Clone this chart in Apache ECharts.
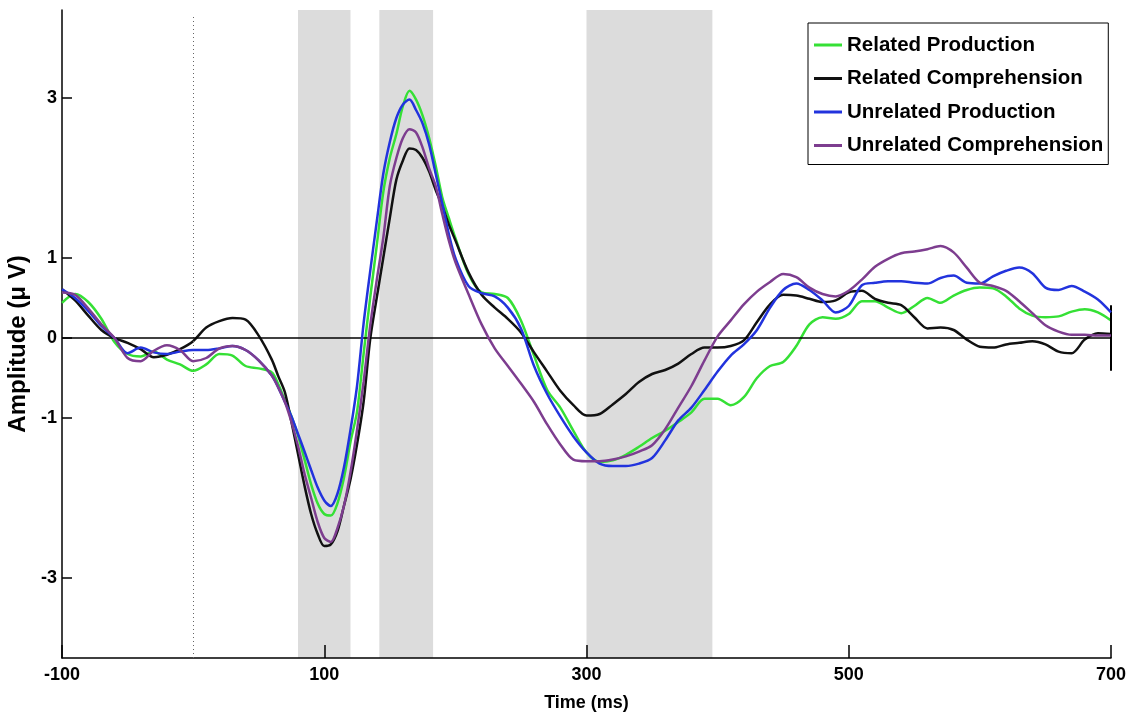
<!DOCTYPE html>
<html>
<head>
<meta charset="utf-8">
<script src="https://cdn.jsdelivr.net/npm/echarts@6/dist/echarts.min.js"></script>
<style>
html,body{margin:0;padding:0;background:#fff;}
#chart{width:1135px;height:722px;}
</style>
</head>
<body>
<div id="chart"></div>
<script>
const times = [-100,-90,-80,-70,-60,-50,-40,-30,-20,-10,0,10,20,30,40,50,60,
  65,70,75,80,85,90,95,100,105,110,115,120,125,130,135,140,145,150,155,160,165,170,175,180,185,190,195,200,
  210,220,230,240,250,260,270,280,290,300,310,320,330,340,350,360,370,380,390,400,410,420,430,440,450,460,470,480,490,500,
  510,520,530,540,550,560,570,580,590,600,610,620,630,640,650,660,670,680,690,700];

const relatedProduction = [0.44,0.55,0.45,0.24,-0.05,-0.2,-0.23,-0.17,-0.27,-0.33,-0.41,-0.33,-0.2,-0.22,-0.35,-0.38,-0.43,
  -0.58,-0.78,-0.98,-1.22,-1.52,-1.83,-2.07,-2.2,-2.22,-2.07,-1.75,-1.3,-0.92,-0.2,0.5,1.15,1.82,2.25,2.55,2.9,3.09,2.98,2.78,2.5,2.15,1.76,1.5,1.25,
  0.8,0.57,0.55,0.5,0.22,-0.22,-0.65,-0.87,-1.16,-1.43,-1.55,-1.53,-1.46,-1.36,-1.25,-1.16,-1.05,-0.93,-0.76,-0.76,-0.84,-0.74,-0.5,-0.35,-0.3,-0.1,0.17,0.26,0.24,0.3,
  0.46,0.46,0.38,0.31,0.4,0.5,0.44,0.53,0.6,0.63,0.62,0.52,0.37,0.28,0.26,0.27,0.33,0.36,0.32,0.22];

const relatedComprehension = [0.61,0.47,0.28,0.1,0.0,-0.06,-0.14,-0.24,-0.21,-0.14,-0.04,0.13,0.21,0.25,0.23,0.03,-0.27,
  -0.48,-0.68,-1.05,-1.45,-1.85,-2.2,-2.45,-2.6,-2.58,-2.42,-2.1,-1.77,-1.33,-0.8,-0.02,0.5,1.0,1.5,1.98,2.22,2.37,2.35,2.25,2.08,1.85,1.65,1.42,1.22,
  0.82,0.54,0.38,0.24,0.07,-0.18,-0.42,-0.66,-0.84,-0.97,-0.95,-0.83,-0.7,-0.55,-0.45,-0.4,-0.32,-0.2,-0.12,-0.12,-0.1,-0.03,0.2,0.42,0.54,0.53,0.49,0.45,0.47,0.57,
  0.59,0.49,0.44,0.41,0.26,0.12,0.13,0.1,-0.02,-0.11,-0.12,-0.08,-0.06,-0.04,-0.08,-0.17,-0.19,-0.02,0.06,0.05];

const unrelatedProduction = [0.61,0.5,0.34,0.15,0.0,-0.19,-0.12,-0.18,-0.2,-0.17,-0.15,-0.15,-0.13,-0.1,-0.15,-0.28,-0.47,
  -0.62,-0.8,-0.98,-1.2,-1.42,-1.65,-1.87,-2.03,-2.1,-1.95,-1.62,-1.15,-0.6,0.18,0.83,1.45,2.05,2.45,2.75,2.92,2.98,2.85,2.68,2.42,2.05,1.68,1.3,1.0,
  0.65,0.56,0.52,0.38,0.12,-0.35,-0.7,-0.98,-1.23,-1.43,-1.57,-1.6,-1.6,-1.57,-1.5,-1.28,-1.03,-0.87,-0.65,-0.42,-0.22,-0.08,0.1,0.38,0.6,0.68,0.6,0.47,0.32,0.4,
  0.66,0.69,0.71,0.71,0.69,0.68,0.75,0.78,0.69,0.68,0.77,0.84,0.88,0.81,0.63,0.6,0.65,0.58,0.48,0.32];

const unrelatedComprehension = [0.57,0.54,0.37,0.17,0.0,-0.25,-0.29,-0.16,-0.09,-0.15,-0.29,-0.25,-0.13,-0.1,-0.15,-0.28,-0.47,
  -0.62,-0.8,-1.05,-1.35,-1.7,-2.0,-2.3,-2.5,-2.55,-2.38,-2.1,-1.68,-1.15,-0.55,0.15,0.72,1.25,1.9,2.25,2.5,2.61,2.57,2.38,2.12,1.9,1.55,1.22,0.95,
  0.55,0.17,-0.13,-0.35,-0.57,-0.8,-1.08,-1.33,-1.52,-1.54,-1.54,-1.52,-1.48,-1.42,-1.34,-1.14,-0.87,-0.6,-0.28,0.02,0.22,0.42,0.58,0.7,0.8,0.76,0.63,0.55,0.52,0.59,
  0.73,0.89,0.99,1.06,1.08,1.11,1.15,1.07,0.88,0.69,0.65,0.59,0.46,0.31,0.16,0.08,0.04,0.04,0.03,0.03];

const seriesNames = ['Related Production','Related Comprehension','Unrelated Production','Unrelated Comprehension'];
const seriesColors = ['#35e035','#111111','#2233dd','#7d3d8f'];
const shadedWindows = [[80,120],[142,183],[300,396]];
const xTicks = [-100,100,300,500,700];
const yTicks = [-3,-1,0,1,3];
const stimulusOnset = 0;
const endMarker = [700, 0.41, -0.41];

const sans = "'Liberation Sans',Arial,Helvetica,sans-serif";
const allSeries = [relatedProduction, relatedComprehension, unrelatedProduction, unrelatedComprehension];

function pairs(vals){ return times.map((t,i)=>[t, vals[i]]); }

const series = [{
  type:'line', data:[], z:1, silent:true,
  markArea:{ silent:true, itemStyle:{color:'#dcdcdc'},
    data: shadedWindows.map(w=>[{xAxis:w[0], yAxis:-4},{xAxis:w[1], yAxis:4.1}]) },
  markLine:{ silent:true, symbol:'none', label:{show:false}, animation:false,
    data:[
      [{coord:[stimulusOnset,-4], lineStyle:{color:'#666', type:[1,3], width:1}}, {coord:[stimulusOnset,4.05]}]
    ] }
}];
allSeries.forEach((vals,i)=>{
  series.push({
    name: seriesNames[i], type:'line', data: pairs(vals), showSymbol:false, symbol:'none',
    smooth:0.3, z: 3+i, lineStyle:{color:seriesColors[i], width:2.5}, itemStyle:{color:seriesColors[i]}
  });
});
series.push({
  type:'line', data:[], z:10, silent:true,
  markLine:{ silent:true, symbol:'none', label:{show:false}, animation:false,
    data:[
      {yAxis:0, lineStyle:{color:'#000', type:'solid', width:1.5}},
      [{coord:[endMarker[0],endMarker[1]], lineStyle:{color:'#000', type:'solid', width:2}}, {coord:[endMarker[0],endMarker[2]]}]
    ] }
});

const chart = echarts.init(document.getElementById('chart'), null, {renderer:'canvas'});
chart.setOption({
  animation:false,
  backgroundColor:'#fff',
  grid:{left:62, right:24, top:10, bottom:64, containLabel:false, outerBoundsMode:'none'},
  legend:{
    data: seriesNames, orient:'vertical', left:808, top:23,
    padding:[11,5,8,6], itemGap:11.5, itemWidth:28, itemHeight:3, icon:'rect',
    backgroundColor:'#fff', borderColor:'#000', borderWidth:1, borderRadius:0,
    textStyle:{fontFamily:sans, fontWeight:'bold', fontSize:20.5, color:'#000', lineHeight:22},
    selectedMode:false
  },
  xAxis:{
    type:'value', min:-100, max:700, z:2,
    name:'Time (ms)', nameLocation:'middle', nameGap:36,
    nameTextStyle:{fontFamily:sans, fontWeight:'bold', fontSize:18, color:'#000'},
    axisLine:{show:true, onZero:false, lineStyle:{color:'#000', width:1.5}},
    axisTick:{show:true, inside:true, length:13, customValues:xTicks, lineStyle:{color:'#000', width:1.5}},
    axisLabel:{customValues:xTicks, margin:8, fontFamily:sans, fontWeight:'bold', fontSize:18, color:'#000'},
    splitLine:{show:false}
  },
  yAxis:{
    type:'value', min:-4, max:4.1, z:2,
    name:'Amplitude (μ V)', nameLocation:'middle', nameGap:30, nameRotate:90,
    nameTextStyle:{fontFamily:sans, fontWeight:'bold', fontSize:24, color:'#000', padding:[0,20,0,0]},
    axisLine:{show:true, onZero:false, lineStyle:{color:'#000', width:1.5}},
    axisTick:{show:true, inside:true, length:10, customValues:yTicks, lineStyle:{color:'#000', width:1.5}},
    axisLabel:{customValues:yTicks, margin:5, fontFamily:sans, fontWeight:'bold', fontSize:18, color:'#000'},
    splitLine:{show:false}
  },
  series: series
});
</script>
</body>
</html>
